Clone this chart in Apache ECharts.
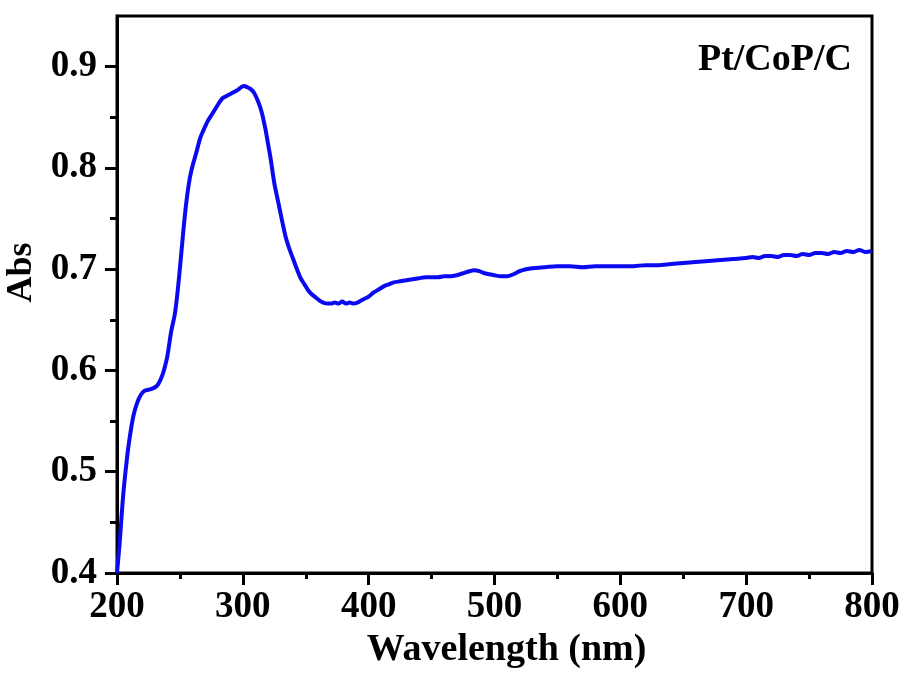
<!DOCTYPE html>
<html>
<head>
<meta charset="utf-8">
<script src="https://cdn.jsdelivr.net/npm/echarts@6/dist/echarts.min.js"></script>
<style>
  html, body { margin: 0; padding: 0; background: #fff; }
  #chart { width: 901px; height: 673px; }
</style>
</head>
<body>
<div id="chart"></div>
<script>
// UV-vis spectrum of Pt/CoP/C
const wavelength = [
  200, 202, 205, 208, 210, 213, 216, 219, 222, 225, 228, 231, 233, 235, 237, 240, 243, 246, 248, 250,
  252, 254, 256, 258, 260, 263, 266, 269, 272, 275, 278, 281, 284, 287, 290, 293, 296, 299, 301, 303,
  306, 309, 312, 315, 318, 320, 322, 325, 328, 331, 334, 337, 340, 343, 346, 349, 352, 355, 358, 361,
  364, 367, 370, 373, 376, 379, 382, 385, 388, 391, 394, 397, 400, 404, 408, 412, 416, 420, 425, 430,
  435, 440, 445, 450, 455, 460, 465, 470, 475, 480, 484, 488, 492, 496, 500, 505, 510, 515, 520, 525,
  530, 540, 550, 560, 570, 580, 590, 600, 610, 620, 630, 640, 650, 660, 670, 680, 690, 700, 705, 710,
  715, 720, 725, 730, 735, 740, 745, 750, 755, 760, 765, 770, 775, 780, 785, 790, 795, 800
];
const absorbance = [
  0.400, 0.428, 0.478, 0.514, 0.533, 0.555, 0.568, 0.576, 0.580, 0.581, 0.582, 0.584, 0.587, 0.592, 0.599, 0.614, 0.638, 0.656, 0.676, 0.701,
  0.728, 0.754, 0.775, 0.791, 0.802, 0.815, 0.829, 0.838, 0.846, 0.852, 0.858, 0.864, 0.869, 0.871, 0.873, 0.875, 0.877, 0.880, 0.881, 0.880,
  0.878, 0.874, 0.866, 0.855, 0.838, 0.824, 0.810, 0.785, 0.767, 0.749, 0.732, 0.720, 0.710, 0.700, 0.691, 0.685, 0.679, 0.675, 0.672, 0.669,
  0.667, 0.666, 0.666, 0.667, 0.666, 0.668, 0.666, 0.667, 0.666, 0.667, 0.669, 0.671, 0.673, 0.677, 0.680, 0.683, 0.685, 0.687, 0.688, 0.689,
  0.690, 0.691, 0.692, 0.692, 0.692, 0.693, 0.693, 0.694, 0.696, 0.698, 0.699, 0.698, 0.696, 0.695, 0.694, 0.693, 0.693, 0.695, 0.698, 0.700,
  0.701, 0.702, 0.703, 0.703, 0.702, 0.703, 0.703, 0.703, 0.703, 0.704, 0.704, 0.705, 0.706, 0.707, 0.708, 0.709, 0.710, 0.711, 0.712, 0.711,
  0.713, 0.713, 0.712, 0.714, 0.714, 0.713, 0.715, 0.714, 0.716, 0.716, 0.715, 0.717, 0.716, 0.718, 0.717, 0.719, 0.717, 0.718
];
const yMajorTicks = [0.4, 0.5, 0.6, 0.7, 0.8, 0.9];
const yMinorTicks = [0.45, 0.55, 0.65, 0.75, 0.85];
const sampleLabel = "Pt/CoP/C";

const font = "'Liberation Serif', 'Times New Roman', serif";
const black = "#000";

const chart = echarts.init(document.getElementById("chart"));

chart.setOption({
  animation: false,
  backgroundColor: "#fff",
  title: {
    text: sampleLabel,
    right: 44,
    top: 36,
    textStyle: { fontFamily: font, fontWeight: "bold", fontSize: 38, color: black },
  },
  grid: {
    left: 117, right: 29, top: 16, bottom: 100,
    outerBoundsMode: "none",
    show: true, borderColor: black, borderWidth: 3, backgroundColor: "transparent",
  },
  xAxis: {
    type: "value",
    min: 200, max: 800, interval: 100,
    name: "Wavelength (nm)",
    nameLocation: "middle",
    nameGap: 57,
    nameTextStyle: { fontFamily: font, fontWeight: "bold", fontSize: 38, color: black, padding: [0, 0, 0, 24] },
    axisLine: { lineStyle: { color: black, width: 3 } },
    axisTick: { length: 12, lineStyle: { color: black, width: 3 } },
    minorTick: { show: true, splitNumber: 2, length: 6, lineStyle: { color: black, width: 3 } },
    axisLabel: { margin: 16, fontFamily: font, fontWeight: "bold", fontSize: 37, color: black },
    splitLine: { show: false },
  },
  yAxis: [{
    type: "value",
    min: 0.4, max: 0.95,
    name: "Abs",
    nameLocation: "middle",
    nameRotate: 90,
    nameGap: 66,
    nameTextStyle: { fontFamily: font, fontWeight: "bold", fontSize: 36, color: black, padding: [0, 0, 0, 44] },
    axisLine: { lineStyle: { color: black, width: 3 } },
    axisTick: { length: 12, customValues: yMajorTicks, lineStyle: { color: black, width: 3 } },
    axisLabel: {
      margin: 20, customValues: yMajorTicks,
      fontFamily: font, fontWeight: "bold", fontSize: 37, color: black,
      formatter: (v) => v.toFixed(1),
    },
    splitLine: { show: false },
  }, {
    type: "value",
    min: 0.4, max: 0.95,
    position: "left",
    axisLine: { show: false },
    axisTick: { length: 7, customValues: yMinorTicks, lineStyle: { color: black, width: 3 } },
    axisLabel: { show: false },
    splitLine: { show: false },
  }],
  series: [{
    type: "line",
    data: wavelength.map((w, i) => [w, absorbance[i]]),
    showSymbol: false,
    smooth: 0.3,
    lineStyle: { color: "#0a0af0", width: 4 },
    clip: true,
  }],
});
</script>
</body>
</html>
